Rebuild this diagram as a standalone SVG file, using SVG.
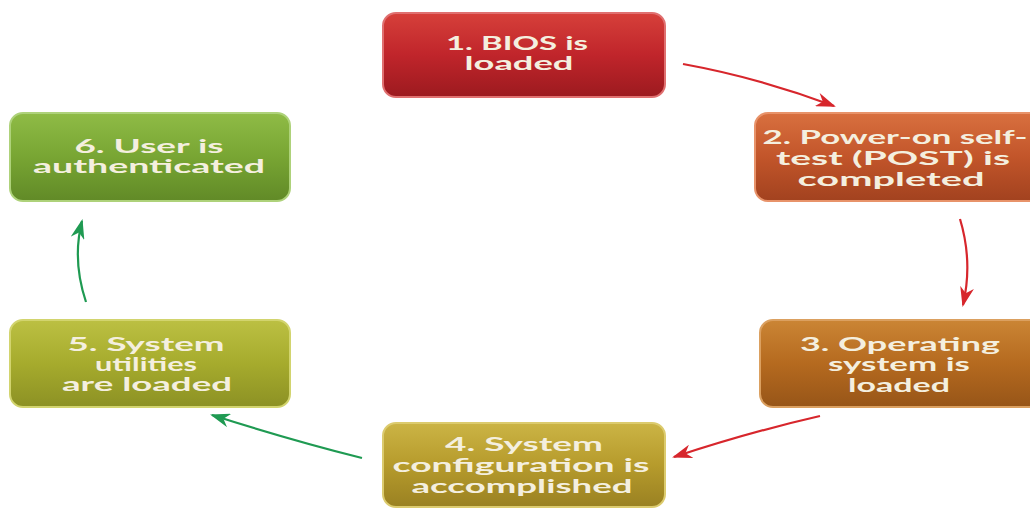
<svg xmlns="http://www.w3.org/2000/svg" width="1030" height="508" viewBox="0 0 1030 508">
<defs>
<style>
.t{font-family:"Lato","Open Sans","DejaVu Sans",sans-serif;font-weight:bold;font-size:18px;fill:#f4efdf;text-anchor:middle}
.box{stroke-width:2}
.red{fill:none;stroke:#d7262c;stroke-width:2.2}
.grn{fill:none;stroke:#1f9a52;stroke-width:2.2}
</style>
<linearGradient id="g1" x1="0" y1="0" x2="0" y2="1"><stop offset="0" stop-color="#d6403a"/><stop offset="0.5" stop-color="#c0252b"/><stop offset="1" stop-color="#9c1a1f"/></linearGradient>
<linearGradient id="g2" x1="0" y1="0" x2="0" y2="1"><stop offset="0" stop-color="#d8703f"/><stop offset="0.5" stop-color="#c2552a"/><stop offset="1" stop-color="#a2421f"/></linearGradient>
<linearGradient id="g3" x1="0" y1="0" x2="0" y2="1"><stop offset="0" stop-color="#cb8535"/><stop offset="0.5" stop-color="#b56a1f"/><stop offset="1" stop-color="#975518"/></linearGradient>
<linearGradient id="g4" x1="0" y1="0" x2="0" y2="1"><stop offset="0" stop-color="#cbb445"/><stop offset="0.5" stop-color="#b69b2c"/><stop offset="1" stop-color="#9a8122"/></linearGradient>
<linearGradient id="g5" x1="0" y1="0" x2="0" y2="1"><stop offset="0" stop-color="#bcc043"/><stop offset="0.5" stop-color="#a6ab2d"/><stop offset="1" stop-color="#8c9124"/></linearGradient>
<linearGradient id="g6" x1="0" y1="0" x2="0" y2="1"><stop offset="0" stop-color="#8fbb46"/><stop offset="0.5" stop-color="#78a533"/><stop offset="1" stop-color="#618a27"/></linearGradient>
<marker id="ar" viewBox="0 0 20 14" markerWidth="20" markerHeight="14" refX="18" refY="7" orient="auto" markerUnits="userSpaceOnUse"><path d="M0,0 L20,7 L0,14 L6,7 z" fill="#d7262c"/></marker>
<marker id="ag" viewBox="0 0 20 14" markerWidth="20" markerHeight="14" refX="18" refY="7" orient="auto" markerUnits="userSpaceOnUse"><path d="M0,0 L20,7 L0,14 L6,7 z" fill="#1f9a52"/></marker>
</defs>
<rect width="1030" height="508" fill="#ffffff"/>
<g id="connectors">
<path class="red" d="M683,64 Q760,78 834,106" marker-end="url(#ar)"/>
<path class="red" d="M960,219 Q973,262 963,305" marker-end="url(#ar)"/>
<path class="red" d="M820,416 Q750,432 674,457" marker-end="url(#ar)"/>
<path class="grn" d="M362,458 Q290,440 212,415" marker-end="url(#ag)"/>
<path class="grn" d="M86,302 Q72,260 82,221" marker-end="url(#ag)"/>
</g>
<g id="n1">
<rect class="box" x="383" y="13" width="282" height="84" rx="13" fill="url(#g1)" stroke="#e07070"/>
<text class="t" x="517" y="50" textLength="142" lengthAdjust="spacingAndGlyphs">1. BIOS is</text>
<text class="t" x="519" y="70" textLength="109" lengthAdjust="spacingAndGlyphs">loaded</text>
</g>
<g id="n2">
<rect class="box" x="755" y="113" width="290" height="88" rx="13" fill="url(#g2)" stroke="#e8936a"/>
<text class="t" x="895" y="144" textLength="265" lengthAdjust="spacingAndGlyphs">2. Power-on self-</text>
<text class="t" x="893" y="165" textLength="234" lengthAdjust="spacingAndGlyphs">test (POST) is</text>
<text class="t" x="891" y="186" textLength="187" lengthAdjust="spacingAndGlyphs">completed</text>
</g>
<g id="n3">
<rect class="box" x="760" y="320" width="290" height="87" rx="13" fill="url(#g3)" stroke="#dba060"/>
<text class="t" x="900" y="351" textLength="200" lengthAdjust="spacingAndGlyphs">3. Operating</text>
<text class="t" x="899" y="371" textLength="142" lengthAdjust="spacingAndGlyphs">system is</text>
<text class="t" x="899" y="392" textLength="102" lengthAdjust="spacingAndGlyphs">loaded</text>
</g>
<g id="n4">
<rect class="box" x="383" y="423" width="282" height="84" rx="13" fill="url(#g4)" stroke="#dccb6e"/>
<text class="t" x="524" y="451" textLength="158" lengthAdjust="spacingAndGlyphs">4. System</text>
<text class="t" x="521" y="472" textLength="257" lengthAdjust="spacingAndGlyphs">configuration is</text>
<text class="t" x="522" y="493" textLength="221" lengthAdjust="spacingAndGlyphs">accomplished</text>
</g>
<g id="n5">
<rect class="box" x="10" y="320" width="280" height="87" rx="13" fill="url(#g5)" stroke="#d2d46e"/>
<text class="t" x="146" y="351" textLength="157" lengthAdjust="spacingAndGlyphs">5. System</text>
<text class="t" x="146" y="371" textLength="102" lengthAdjust="spacingAndGlyphs">utilities</text>
<text class="t" x="147" y="391" textLength="170" lengthAdjust="spacingAndGlyphs">are loaded</text>
</g>
<g id="n6">
<rect class="box" x="10" y="113" width="280" height="88" rx="13" fill="url(#g6)" stroke="#aed27a"/>
<text class="t" x="149" y="153" textLength="149" lengthAdjust="spacingAndGlyphs">6. User is</text>
<text class="t" x="149" y="173" textLength="232" lengthAdjust="spacingAndGlyphs">authenticated</text>
</g>
</svg>
